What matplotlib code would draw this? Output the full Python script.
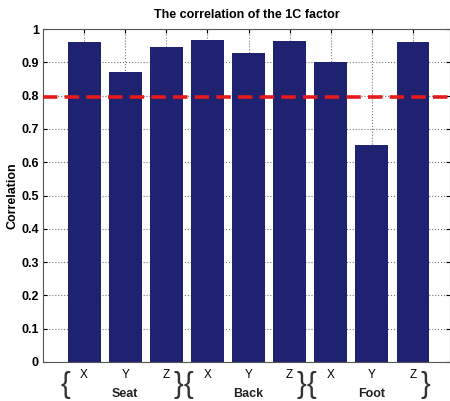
import matplotlib
matplotlib.use("Agg")
import matplotlib.pyplot as plt
import matplotlib.transforms as mtransforms

plt.rcParams['font.family'] = ['Liberation Sans', 'DejaVu Sans']

axis_labels = ["X", "Y", "Z", "X", "Y", "Z", "X", "Y", "Z"]
groups = ["Seat", "Back", "Foot"]
values = [0.961, 0.871, 0.946, 0.967, 0.928, 0.964, 0.902, 0.652, 0.961]
threshold = 0.795
yticks = [0, 0.1, 0.2, 0.3, 0.4, 0.5, 0.6, 0.7, 0.8, 0.9, 1]
ytick_labels = ["0", "0.1", "0.2", "0.3", "0.4", "0.5", "0.6", "0.7", "0.8", "0.9", "1"]

fig = plt.figure(figsize=(4.5, 4.01), dpi=100)
ax = fig.add_axes([43/450, 39/401, 407/450, 333/401])

x = list(range(1, len(values) + 1))
ax.bar(x, values, width=0.8, color='#1f2270', zorder=2)
ax.axhline(threshold, color='#e41a1c', lw=2.6, ls=(0, (4, 2)), zorder=3)

ax.set_xlim(0, 9.9)
ax.set_ylim(0, 1)
ax.set_yticks(yticks)
ax.set_yticklabels(ytick_labels, fontsize=9, fontweight='bold')
ax.set_xticks(x)
ax.set_xticklabels(axis_labels, fontsize=8.5)
ax.tick_params(direction='in', length=3, top=True, right=True, pad=3)
ax.tick_params(axis='x', pad=5)
ax.grid(True, ls=':', color='#777777', lw=0.8, zorder=0)
ax.set_axisbelow(True)
for s in ax.spines.values():
    s.set_color('#555555')
    s.set_linewidth(0.8)

ax.set_title("The correlation of the 1C factor", fontsize=9, fontweight='bold', pad=8)
ax.set_ylabel("Correlation", fontsize=9, fontweight='bold', labelpad=2)

trans = mtransforms.blended_transform_factory(ax.transData, fig.transFigure)
for i, g in enumerate(groups):
    start = 1 + 3 * i
    end = start + 2
    center = (start + end) / 2
    ax.text(start - 0.46, 16/401, "{", transform=trans, ha='center', va='center',
            fontsize=21, fontfamily='Liberation Sans', color='#333333')
    ax.text(end + 0.29, 16/401, "}", transform=trans, ha='center', va='center',
            fontsize=21, fontfamily='Liberation Sans', color='#333333')
    ax.text(center, 7/401, g, transform=trans, ha='center', va='center',
            fontsize=9, fontweight='bold', color='#222222')

fig.savefig("out.png", dpi=100)
